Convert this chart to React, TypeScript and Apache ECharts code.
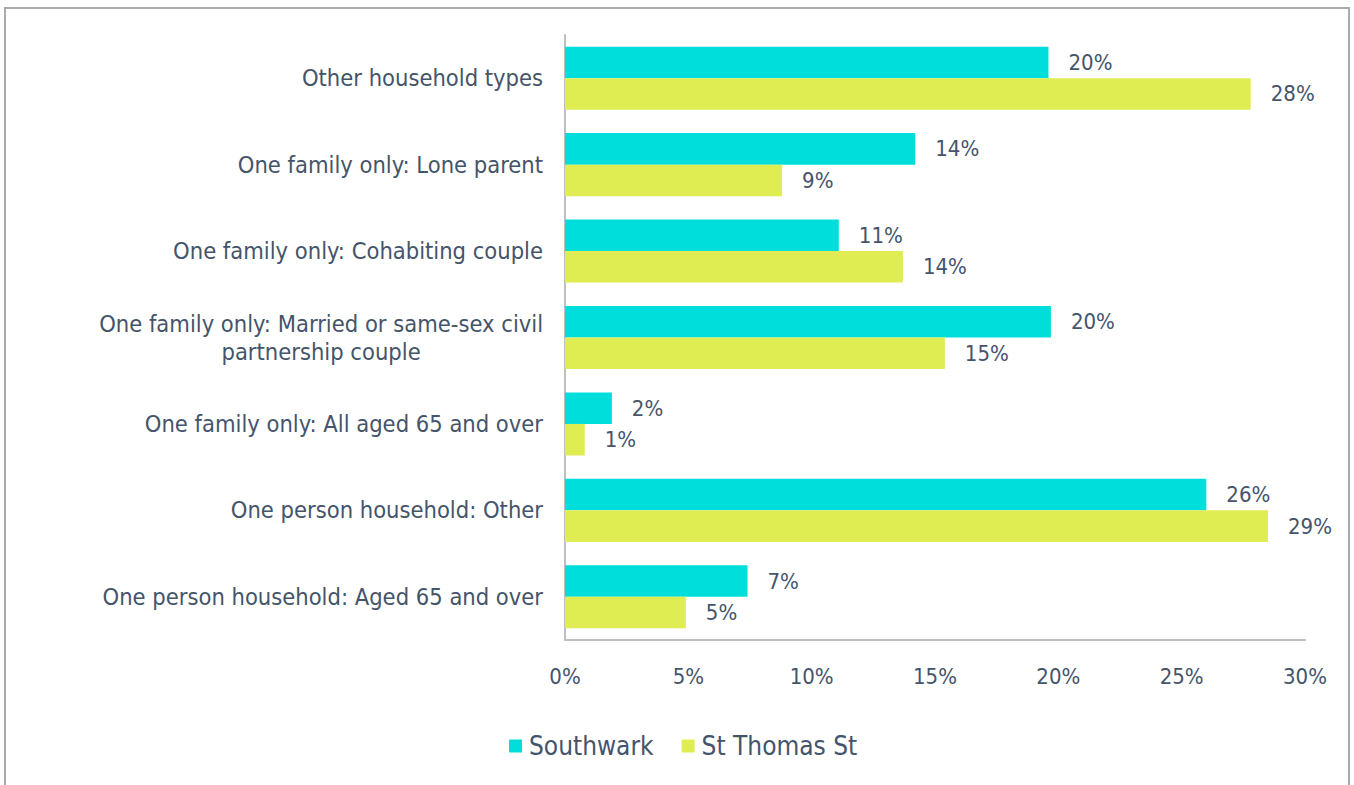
import React, { useEffect, useRef } from "react";
import * as echarts from "echarts";

// Household composition, top to bottom
const categories = [
  "Other household types",
  "One family only: Lone parent",
  "One family only: Cohabiting couple",
  "One family only: Married or same-sex civil\npartnership couple",
  "One family only: All aged 65 and over",
  "One person household: Other",
  "One person household: Aged 65 and over",
];
const southwark = [19.6, 14.2, 11.1, 19.7, 1.9, 26.0, 7.4];
const stThomasSt = [27.8, 8.8, 13.7, 15.4, 0.8, 28.5, 4.9];
const xTicks = [0, 5, 10, 15, 20, 25, 30];

const TEXT = "#44546A";
const FONT = "'DejaVu Sans Condensed', 'DejaVu Sans', sans-serif";

export default function App() {
  const ref = useRef<HTMLDivElement>(null);

  useEffect(() => {
    document.body.style.margin = "0";
    const chart = echarts.init(ref.current!, null, { renderer: "svg" });
    const labelStyle = {
      show: true,
      position: "right" as const,
      distance: 20,
      color: TEXT,
      fontFamily: FONT,
      fontSize: 22,
      formatter: (p: any) => `${Math.round(p.value)}%`,
    };
    chart.setOption({
      animation: false,
      textStyle: { fontFamily: FONT, color: TEXT },
      grid: { left: 565, right: 49, top: 35, bottom: 145, containLabel: false },
      graphic: [
        {
          type: "rect",
          shape: { x: 5, y: 8, width: 1344, height: 800 },
          style: { fill: "none", stroke: "#A9ABAE", lineWidth: 2 },
          silent: true,
        },
      ],
      legend: {
        data: ["Southwark", "St Thomas St"],
        bottom: 21,
        left: 504,
        icon: "rect",
        itemWidth: 13,
        itemHeight: 13,
        itemGap: 28,
        textStyle: { color: TEXT, fontFamily: FONT, fontSize: 26, padding: [0, 0, 0, 2] },
      },
      xAxis: {
        type: "value",
        min: xTicks[0],
        max: xTicks[xTicks.length - 1],
        interval: 5,
        axisLine: { show: true, lineStyle: { color: "#BFBFBF", width: 2 } },
        axisTick: { show: false },
        splitLine: { show: false },
        axisLabel: {
          color: TEXT,
          fontFamily: FONT,
          fontSize: 22,
          margin: 25,
          formatter: (v: number) => `${v}%`,
        },
      },
      yAxis: {
        type: "category",
        inverse: true,
        data: categories,
        axisLine: { show: true, lineStyle: { color: "#BFBFBF", width: 2 } },
        axisTick: { show: false },
        axisLabel: {
          margin: 22,
          color: TEXT,
          fontFamily: FONT,
          fontSize: 23.5,
          lineHeight: 28,
          formatter: (v: string) =>
            v
              .split("\n")
              .map((line) => `{c|${line}}`)
              .join("\n"),
          rich: {
            c: { align: "center", color: TEXT, fontFamily: FONT, fontSize: 23.5, lineHeight: 28 },
          },
        },
      },
      series: [
        {
          name: "Southwark",
          type: "bar",
          data: southwark,
          barGap: "0%",
          barCategoryGap: "27%",
          itemStyle: { color: "#00DEDB" },
          label: labelStyle,
        },
        {
          name: "St Thomas St",
          type: "bar",
          data: stThomasSt,
          barGap: "0%",
          barCategoryGap: "27%",
          itemStyle: { color: "#DFED52" },
          label: labelStyle,
        },
      ],
    });
    return () => chart.dispose();
  }, []);

  return <div ref={ref} style={{ width: 1354, height: 785 }} />;
}
